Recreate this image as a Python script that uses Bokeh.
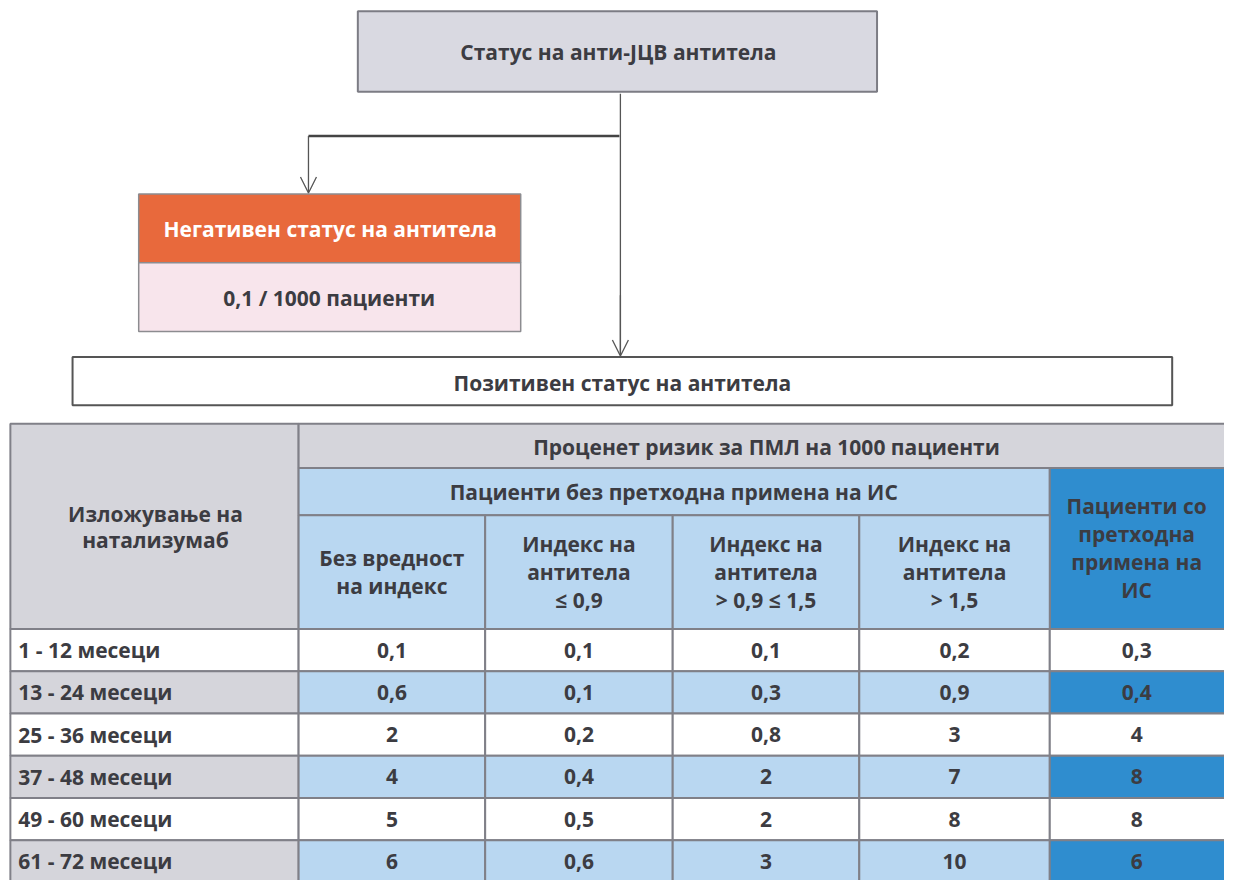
from bokeh.plotting import figure
from bokeh.models import Range1d, Arrow, OpenHead
from bokeh.core.properties import value
from bokeh.embed import file_html
from bokeh.resources import INLINE

# ---------------- data ----------------
top_label = "Статус на анти-JЦВ антитела"
neg_label = "Негативен статус на антитела"
neg_risk = "0,1 / 1000 пациенти"
pos_label = "Позитивен статус на антитела"

table_title = "Проценет ризик за ПМЛ на 1000 пациенти"
group_no_is = "Пациенти без претходна примена на ИС"
group_is = "Пациенти со\nпретходна\nпримена на\nИС"
row_header = "Изложување на\nнатализумаб"
col_headers = [
    "Без вредност\nна индекс",
    "Индекс на\nантитела\n≤ 0,9",
    "Индекс на\nантитела\n> 0,9 ≤ 1,5",
    "Индекс на\nантитела\n> 1,5",
]
row_labels = ["1 - 12 месеци", "13 - 24 месеци", "25 - 36 месеци",
              "37 - 48 месеци", "49 - 60 месеци", "61 - 72 месеци"]
no_index = [0.1, 0.6, 2, 4, 5, 6]
index_le_09 = [0.1, 0.1, 0.2, 0.4, 0.5, 0.6]
index_09_15 = [0.1, 0.3, 0.8, 2, 2, 3]
index_gt_15 = [0.2, 0.9, 3, 7, 8, 10]
prior_is = [0.3, 0.4, 4, 8, 8, 6]

# ---------------- style ----------------
FONT = value("Open Sans")
TXT = "#3c3c42"
GRAY = "#d5d5db"
LBLUE = "#b9d7f1"
DBLUE = "#2f8dcf"
EDGE = "#808088"
ORANGE = "#e8693c"
PINK = "#f8e5ec"

def fmt(v):
    return f"{v:g}".replace(".", ",")

W, H = 1224, 880
p = figure(width=W, height=H, x_range=Range1d(0, 1240), y_range=Range1d(896, 0),
           output_backend="svg", toolbar_location=None, min_border=0)
p.axis.visible = False
p.grid.visible = False
p.outline_line_color = None
p.background_fill_color = "white"
p.border_fill_color = "white"

def box(l, r, t, b, fill, line=EDGE, lw=2):
    p.quad(left=l, right=r, top=t, bottom=b, fill_color=fill, line_color=line, line_width=lw)

def txt(x, y, s, size=21, color=TXT, align="center", step=28):
    lines = s.split("\n")
    n = len(lines)
    ys = [y + (i - (n - 1) / 2) * step for i in range(n)]
    p.text(x=[x] * n, y=ys, text=lines, text_font=FONT, text_font_style="bold",
           text_font_size=f"{size}px", text_color=color, text_align=align,
           text_baseline="middle")

# ---------------- flow diagram ----------------
box(362, 888, 11, 93, "#d9d9e1", "#7c7c84", 2)
txt(626, 52, top_label, size=21)

p.line(x=[628, 628], y=[95, 361], line_color="#555", line_width=1.3)
p.add_layout(Arrow(end=OpenHead(size=16, line_color="#555", line_width=1.3),
                   x_start=628, y_start=300, x_end=628, y_end=362,
                   line_color="#555", line_width=1.3))
p.line(x=[627, 312], y=[138, 138], line_color="#444", line_width=2.5)
p.add_layout(Arrow(end=OpenHead(size=16, line_color="#555", line_width=1.3),
                   x_start=312, y_start=138, x_end=312, y_end=196,
                   line_color="#555", line_width=1.3))

box(140, 527, 197, 267, ORANGE, "#8c8c90", 1.5)
box(140, 527, 267, 337, PINK, "#8c8c90", 1.5)
txt(334, 233, neg_label, size=21, color="white")
txt(333, 303, neg_risk, size=21)

box(73, 1187, 363, 412, "white", "#555", 2)
txt(630, 389, pos_label, size=21)

# ---------------- table ----------------
X0, XR = 10, 1250
col_edges = [302, 491, 681, 870, 1063]
Y0, Y1, Y2, Y3 = 431, 476, 524, 640
RH = 43

box(X0, col_edges[0], Y0, Y3, GRAY)
txt(157, 536, row_header, size=21, step=27)
box(col_edges[0], XR, Y0, Y1, GRAY)
txt(776, 455, table_title, size=21)
box(col_edges[0], col_edges[4], Y1, Y2, LBLUE)
txt(682, 500, group_no_is, size=21)
box(col_edges[4], XR, Y1, Y3, DBLUE)
txt(1151, 557, group_is, size=21, step=28.5)
for i, h in enumerate(col_headers):
    l, r = col_edges[i], col_edges[i + 1]
    box(l, r, Y2, Y3, LBLUE)
    txt((l + r) / 2, 582, h, size=21, step=28.5)

columns = [no_index, index_le_09, index_09_15, index_gt_15, prior_is]
for j, lab in enumerate(row_labels):
    t = Y3 + j * RH
    b = t + RH
    shaded = j % 2 == 1
    box(X0, col_edges[0], t, b, GRAY if shaded else "white")
    txt(18, t + RH / 2, lab, size=21, align="left")
    edges = col_edges + [XR]
    for k, col in enumerate(columns):
        l, r = edges[k], edges[k + 1]
        if shaded:
            fill = DBLUE if k == 4 else LBLUE
        else:
            fill = "white"
        box(l, r, t, b, fill)
        txt((l + r) / 2 if k < 4 else 1151, t + RH / 2, fmt(col[j]), size=21)

open("out.html", "w").write(file_html(p, INLINE))
